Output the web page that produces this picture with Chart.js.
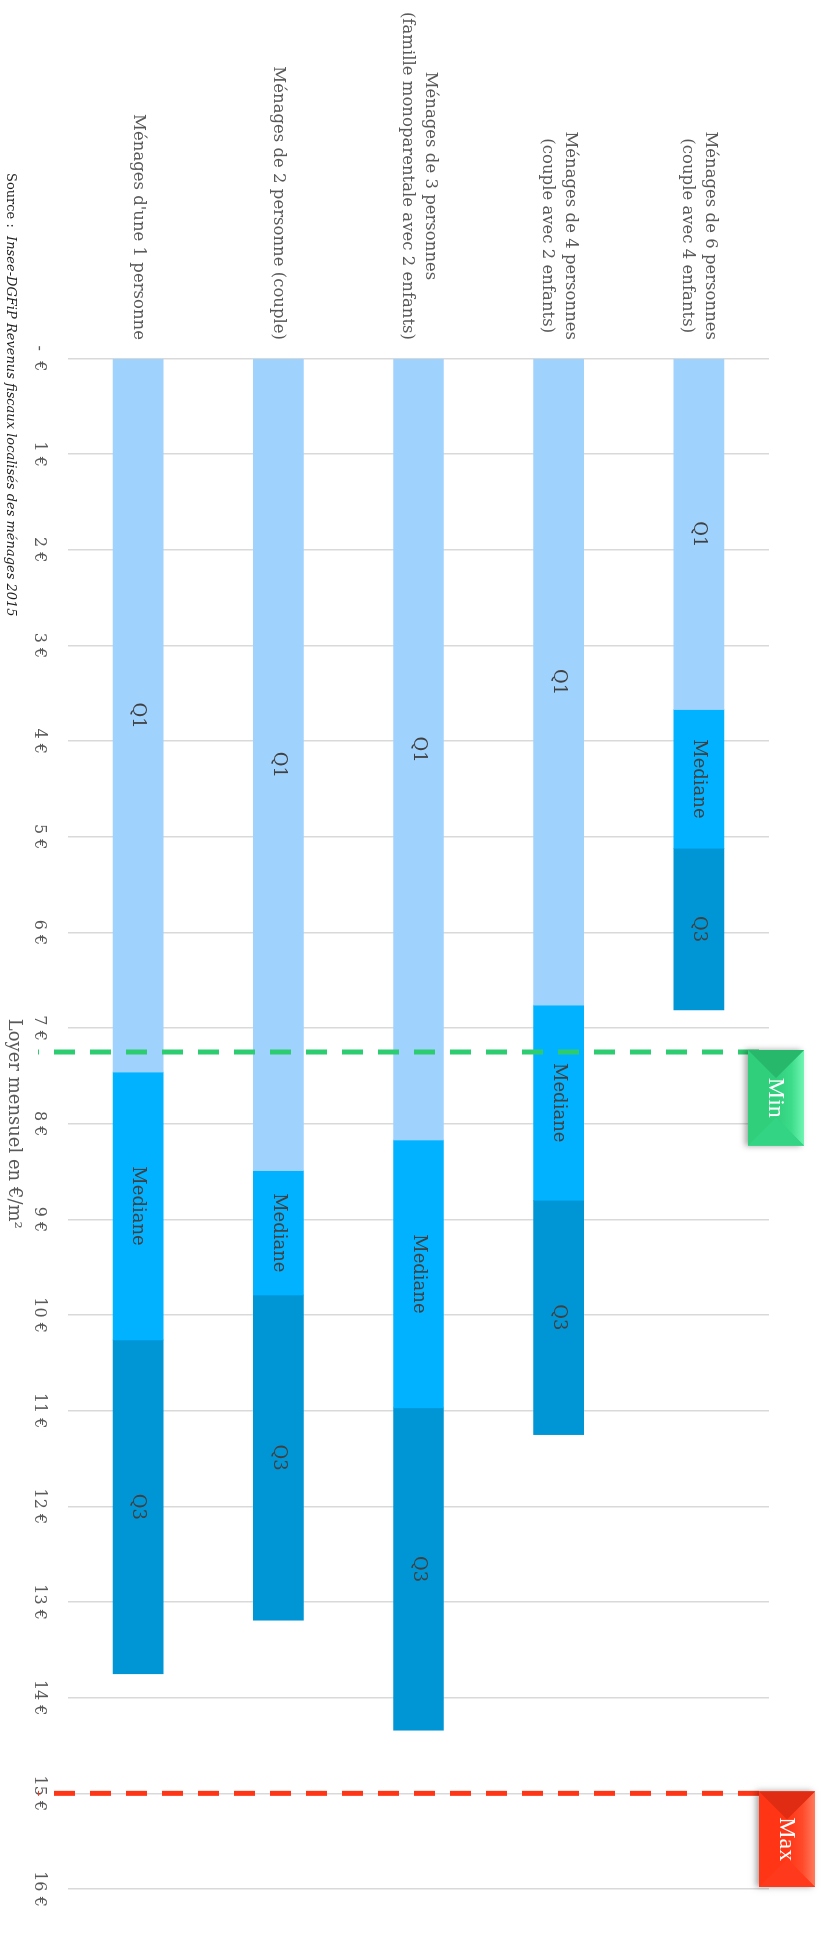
<!DOCTYPE html>
<html>

<head>
    <meta charset="UTF-8" />
    <title>Loyer mensuel selon le type de ménage</title>
    <style>
        html, body { margin: 0; padding: 0; background: #fff; }
        body { width: 822px; height: 1937px; overflow: hidden; position: relative; }
        /* le graphique est dessiné à l'horizontale puis tourné d'un quart de tour */
        #cadre {
            position: absolute; left: 0; top: 0;
            width: 1937px; height: 822px;
            transform-origin: 0 0;
            transform: translate(822px, 0) rotate(90deg);
        }
    </style>
</head>

<body>
    <div id="cadre">
        <canvas id="graphiqueLoyer" width="1937" height="822"></canvas>
    </div>
    <script src="https://cdn.jsdelivr.net/npm/chart.js"></script>
    <script>
        // Données (€/m²)
        const categories = [
            ['Ménages de 6 personnes', '(couple avec 4 enfants)'],
            ['Ménages de 4 personnes', '(couple avec 2 enfants)'],
            ['Ménages de 3 personnes', '(famille monoparentale avec 2 enfants)'],
            ['Ménages de 2 personne (couple)'],
            ["Ménages d'une 1 personne"]
        ];
        const q1 = [3.67, 6.76, 8.17, 8.49, 7.46];
        const mediane = [5.12, 8.80, 10.97, 9.79, 10.26];
        const q3 = [6.81, 11.25, 14.34, 13.19, 13.75];
        const loyerMin = 7.25;
        const loyerMax = 15;
        const etiquettesAxe = ['-  €', '1 €', '2 €', '3 €', '4 €', '5 €', '6 €', '7 €', '8 €',
            '9 €', '10 €', '11 €', '12 €', '13 €', '14 €', '15 €', '16 €'];

        const couleurs = { Q1: '#a0d2fe', Mediane: '#00b2ff', Q3: '#0096d6' };
        const police = '"DejaVu Serif", serif';

        // bouton biseauté (Min / Max)
        function bouton(ctx, x, y, w, h, c, texte) {
            const d = h / 2;
            ctx.save();
            ctx.shadowColor = 'rgba(0,0,0,0.35)';
            ctx.shadowBlur = 6;
            ctx.shadowOffsetY = 3;
            ctx.fillStyle = c.base;
            ctx.fillRect(x, y, w, h);
            ctx.restore();

            const facette = (pts, fill) => {
                ctx.beginPath();
                ctx.moveTo(pts[0][0], pts[0][1]);
                pts.slice(1).forEach(p => ctx.lineTo(p[0], p[1]));
                ctx.closePath();
                ctx.fillStyle = fill;
                ctx.fill();
            };
            const p1 = [x + d, y + d], p2 = [x + w - d, y + d];
            const degrade = ctx.createLinearGradient(0, y, 0, y + d);
            degrade.addColorStop(0, c.clair);
            degrade.addColorStop(0.45, c.moyen);
            degrade.addColorStop(1, c.base);
            facette([[x, y], [x + w, y], p2, p1], degrade);
            facette([[x, y + h], [x + w, y + h], p2, p1], c.base);
            facette([[x, y], p1, [x, y + h]], c.sombre);
            facette([[x + w, y], p2, [x + w, y + h]], c.base2);

            ctx.fillStyle = '#fff';
            ctx.font = '24px "Liberation Serif", serif';
            ctx.textAlign = 'center';
            ctx.textBaseline = 'middle';
            ctx.fillText(texte, x + w / 2, y + h / 2 + 1);
        }

        const habillage = {
            id: 'habillage',
            afterDatasetsDraw(chart) {
                const ctx = chart.ctx;
                ctx.save();
                ctx.font = '18px ' + police;
                ctx.fillStyle = '#404040';
                ctx.textAlign = 'center';
                ctx.textBaseline = 'middle';
                chart.data.datasets.forEach((ds, d) => {
                    chart.getDatasetMeta(d).data.forEach(barre => {
                        ctx.fillText(ds.label, (barre.x + barre.base) / 2, barre.y);
                    });
                });
                ctx.restore();
            },
            afterDraw(chart) {
                const ctx = chart.ctx;
                const x = chart.scales.x;
                const y = chart.scales.y;

                // noms des catégories, lignes centrées entre elles, bloc calé à droite
                ctx.save();
                ctx.font = '16.5px ' + police;
                ctx.fillStyle = '#595959';
                ctx.textAlign = 'center';
                ctx.textBaseline = 'middle';
                categories.forEach((lignes, i) => {
                    const largeur = Math.max(...lignes.map(l => ctx.measureText(l).width));
                    const cx = 340 - largeur / 2;
                    const cy = y.getPixelForValue(i);
                    const h = 23;
                    lignes.forEach((l, k) => {
                        ctx.fillText(l, cx, cy + (k - (lignes.length - 1) / 2) * h);
                    });
                });
                ctx.restore();

                // lignes Min et Max
                const reperes = [
                    { val: loyerMin, texte: 'Min', trait: '#2ecc71', haut: 18,
                      c: { base: '#2fcf7c', base2: '#33d585', sombre: '#27b86c', moyen: '#3ddc8b', clair: '#70f5b2' } },
                    { val: loyerMax, texte: 'Max', trait: '#ff3516', haut: 7,
                      c: { base: '#ff3516', base2: '#ff3a1c', sombre: '#e02c12', moyen: '#ff4a2a', clair: '#ff7a5c' } }
                ];
                reperes.forEach(r => {
                    const px = x.getPixelForValue(r.val);
                    ctx.save();
                    ctx.strokeStyle = r.trait;
                    ctx.lineWidth = 5;
                    ctx.setLineDash([21, 15]);
                    ctx.beginPath();
                    ctx.moveTo(px, 63);
                    ctx.lineTo(px, 784);
                    ctx.stroke();
                    ctx.restore();
                    const w = x.getPixelForValue(r.val + 1) - px;
                    bouton(ctx, px - 2, r.haut, w, 56, r.c, r.texte);
                });

                // source
                ctx.save();
                ctx.fillStyle = '#1f1f1f';
                ctx.textBaseline = 'middle';
                ctx.textAlign = 'left';
                ctx.font = '13px ' + police;
                const debut = 'Source :  ';
                ctx.fillText(debut, 173, 812);
                const dx = ctx.measureText(debut).width;
                ctx.font = 'italic 13px ' + police;
                ctx.fillText('Insee-DGFiP Revenus fiscaux localisés des ménages 2015', 173 + dx, 812);
                ctx.restore();
            }
        };

        const ctx = document.getElementById('graphiqueLoyer').getContext('2d');

        new Chart(ctx, {
            type: 'bar',
            data: {
                labels: categories,
                datasets: [
                    { label: 'Q1', data: q1.map(v => [0, v]), backgroundColor: couleurs.Q1 },
                    { label: 'Mediane', data: q1.map((v, i) => [v, mediane[i]]), backgroundColor: couleurs.Mediane },
                    { label: 'Q3', data: mediane.map((v, i) => [v, q3[i]]), backgroundColor: couleurs.Q3 }
                ]
            },
            options: {
                indexAxis: 'y',
                responsive: false,
                animation: false,
                devicePixelRatio: 1,
                datasets: { bar: { grouped: false, barThickness: 50, borderSkipped: false } },
                layout: { padding: { top: 53, right: 48, left: 0, bottom: 0 } },
                plugins: {
                    legend: { display: false },
                    tooltip: { enabled: false }
                },
                scales: {
                    x: {
                        min: 0,
                        max: 16,
                        afterFit: s => { s.height = 68; },
                        border: { display: false },
                        grid: { color: '#d9d9d9', lineWidth: 1.5, drawTicks: false },
                        ticks: {
                            stepSize: 1,
                            padding: 19,
                            color: '#595959',
                            font: { family: 'DejaVu Serif', size: 16 },
                            maxRotation: 0,
                            autoSkip: false,
                            callback: (v, i) => etiquettesAxe[i]
                        },
                        title: {
                            display: true,
                            text: 'Loyer mensuel en €/m²',
                            color: '#595959',
                            font: { family: 'DejaVu Serif', size: 18 },
                            padding: { top: 0, bottom: 3 }
                        }
                    },
                    y: {
                        afterFit: s => { s.width = 358.5; },
                        border: { display: false },
                        grid: { display: false },
                        ticks: { display: false }
                    }
                }
            },
            plugins: [habillage]
        });
    </script>
</body>

</html>
